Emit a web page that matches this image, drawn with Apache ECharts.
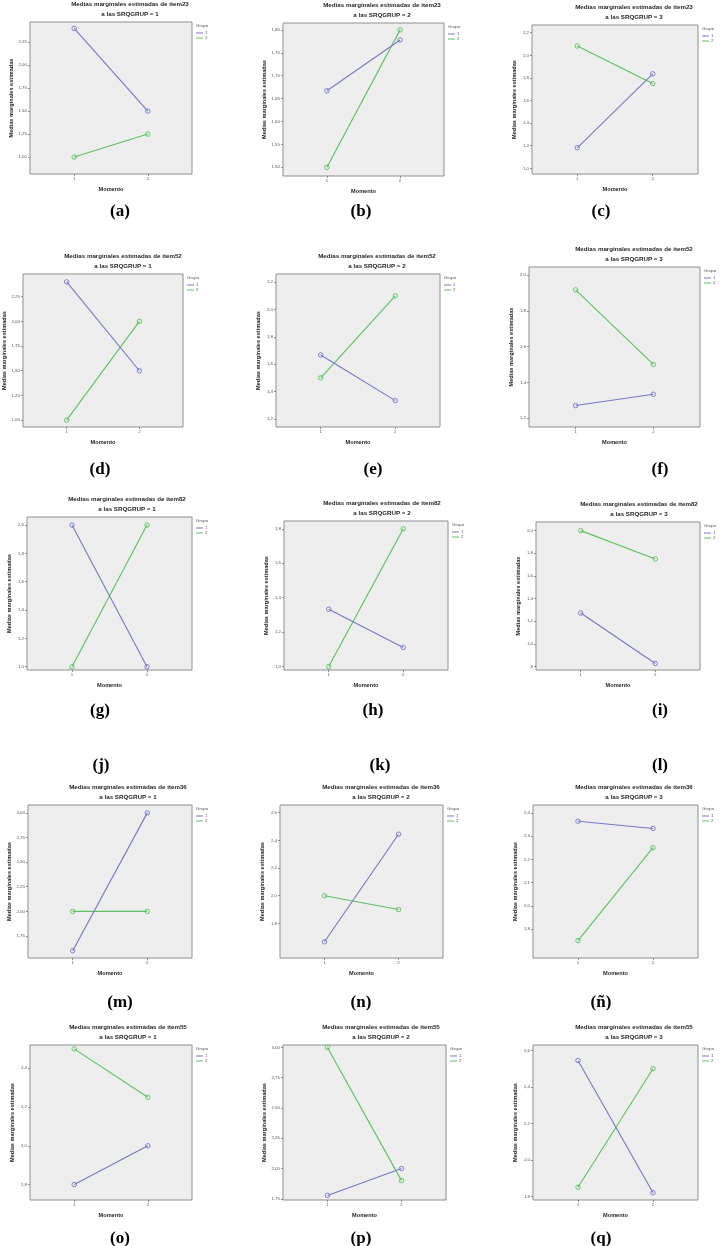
<!DOCTYPE html>
<html><head><meta charset="utf-8">
<script src="https://cdn.jsdelivr.net/npm/echarts@6/dist/echarts.min.js"></script>
<style>html,body{margin:0;padding:0;background:#fff}#c{width:722px;height:1246px}</style>
</head><body><div id="c"></div>
<script>
// ---------- DATA ----------
const momento = ['1', '2'];
const grupoNames = ['1', '2'];
const items = ['item23','item23','item23','item52','item52','item52','item82','item82','item82','item36','item36','item36','item55','item55','item55'];
const srqgrup = ['1','2','3','1','2','3','1','2','3','1','2','3','1','2','3'];
const captions = ['a','b','c','d','e','f','g','h','i','j','k','l','m','n','ñ','o','p','q'];
const grupo1 = [
  [2.40, 1.50], [1.667, 1.778], [1.182, 1.836],
  [2.40, 1.50], [1.667, 1.333], [1.27, 1.333],
  [2.00, 1.00], [1.333, 1.111], [1.273, 0.828],
  [1.60, 3.00], [1.667, 2.444], [2.364, 2.333],
  [1.80, 2.00], [1.778, 2.00], [2.545, 1.82]
];
const grupo2 = [
  [1.00, 1.25], [1.50, 1.80], [2.083, 1.75],
  [1.00, 2.00], [1.50, 2.10], [1.917, 1.50],
  [1.00, 2.00], [1.00, 1.80], [2.00, 1.75],
  [2.00, 2.00], [2.00, 1.90], [1.85, 2.25],
  [2.50, 2.25], [3.00, 1.90], [1.85, 2.50]
];
const yTickLabels = [
  ['1,00','1,25','1,50','1,75','2,00','2,25'],
  ['1,50','1,55','1,60','1,65','1,70','1,75','1,80'],
  ['1,0','1,2','1,4','1,6','1,8','2,0','2,2'],
  ['1,00','1,25','1,50','1,75','2,00','2,25'],
  ['1,2','1,4','1,6','1,8','2,0','2,2'],
  ['1,2','1,4','1,6','1,8','2,0'],
  ['1,0','1,2','1,4','1,6','1,8','2,0'],
  ['1,0','1,2','1,4','1,6','1,8'],
  [',8','1,0','1,2','1,4','1,6','1,8','2,0'],
  ['1,75','2,00','2,25','2,50','2,75','3,00'],
  ['1,8','2,0','2,2','2,4','2,6'],
  ['1,9','2,0','2,1','2,2','2,3','2,4'],
  ['1,8','2,0','2,2','2,4'],
  ['1,75','2,00','2,25','2,50','2,75','3,00'],
  ['1,8','2,0','2,2','2,4','2,6']
];
const yRange = [
  [0.815, 2.47], [1.481, 1.815], [0.95, 2.268],
  [0.93, 2.48], [1.14, 2.26], [1.15, 2.045],
  [0.977, 2.057], [0.98, 1.845], [0.77, 2.076],
  [1.526, 3.08], [1.55, 2.655], [1.775, 2.434],
  [1.72, 2.52], [1.74, 3.02], [1.78, 2.63]
];
const xRange = [0.4, 2.6];

// ---------- LAYOUT ----------
const boxes = [ // left, top, right, bottom of each plot frame
  [30,22,192,174],[283,23,444,176],[532,25,698,174],
  [23,274,183,427],[276,274,440,427],[529,267,700,427],
  [27,517,192,670],[284,521,448,670],[536,522,700,670],
  [28,805,192,958],[280,805,443,958],[533,805,698,958],
  [30,1045,192,1200],[283,1045,446,1200],[533,1045,698,1200]
];
const titleCx = [130,382,634, 123,377,634, 127,382,639, 128,381,634, 128,381,634];
const captionPos = [
  [120,213],[361,213],[601,213],
  [100,471],[373,471],[660,471],
  [100,712],[373,712],[660,712],
  [101,767],[380,767],[660,767],
  [120,1004],[361,1004],[601,1004],
  [120,1240],[361,1240],[601,1240]
];
const C1 = '#7778c4', C2 = '#5ebf64';
const FONT = 'Liberation Sans, Arial, sans-serif';
const txt = '#262626';

const toNum = s => parseFloat(s.replace(',', '.'));

const grid = [], xAxis = [], yAxis = [], series = [], title = [], legend = [];
boxes.forEach((b, i) => {
  grid.push({left: b[0], top: b[1], width: b[2]-b[0], height: b[3]-b[1], show: true,
    backgroundColor: '#eeeeee', borderColor: '#8f8f8f', borderWidth: 1});
  const xVals = momento.map(Number);
  xAxis.push({type: 'value', gridIndex: i, min: xRange[0], max: xRange[1],
    name: 'Momento', nameLocation: 'middle', nameGap: 12.5,
    nameTextStyle: {fontSize: 5.6, fontWeight: 'bold', color: txt, fontFamily: FONT},
    axisLine: {show: false}, splitLine: {show: false},
    axisTick: {show: true, length: 2, customValues: xVals, lineStyle: {color: '#777', width: 0.8}},
    axisLabel: {customValues: xVals, fontSize: 4.4, margin: 3, color: '#555', fontFamily: FONT,
      formatter: v => momento[xVals.indexOf(v)] ?? ''}});
  const ticks = yTickLabels[i].map(toNum);
  yAxis.push({type: 'value', gridIndex: i, min: yRange[i][0], max: yRange[i][1],
    name: 'Medias marginales estimadas', nameLocation: 'middle', nameGap: 15,
    nameTextStyle: {fontSize: 5.6, fontWeight: 'bold', color: txt, fontFamily: FONT},
    axisLine: {show: false}, splitLine: {show: false},
    axisTick: {show: true, length: 2, customValues: ticks, lineStyle: {color: '#777', width: 0.8}},
    axisLabel: {customValues: ticks, fontSize: 4.4, margin: 3, color: '#555', fontFamily: FONT,
      formatter: v => { const k = ticks.findIndex(t => Math.abs(t - v) < 1e-6); return k >= 0 ? yTickLabels[i][k] : ''; }}});
  [grupo1, grupo2].forEach((g, s) => {
    const col = s === 0 ? C1 : C2;
    series.push({type: 'line', name: grupoNames[s], xAxisIndex: i, yAxisIndex: i,
      data: xVals.map((x, j) => [x, g[i][j]]),
      symbol: 'circle', symbolSize: 4.5,
      itemStyle: {color: 'rgba(0,0,0,0)', borderColor: col, borderWidth: 0.9},
      lineStyle: {color: col, width: 1.1}, emphasis: {disabled: true}, silent: true, z: 3 - s});
  });
  title.push({text: 'Medias marginales estimadas de ' + items[i], subtext: 'a las SRQGRUP = ' + srqgrup[i],
    left: titleCx[i], top: b[1] - 20.5, textAlign: 'center', itemGap: 3.5, padding: 0,
    textStyle: {fontSize: 6.2, fontWeight: 'bold', color: txt, fontFamily: FONT},
    subtextStyle: {fontSize: 6.2, fontWeight: 'bold', color: txt, fontFamily: FONT}});
  title.push({text: 'Grupo', left: b[2] + 4, top: b[1] + 1.5, padding: 0,
    textStyle: {fontSize: 4.4, fontWeight: 'normal', color: '#555', fontFamily: FONT}});
  legend.push({left: b[2] + 4, top: b[1] + 9, orient: 'vertical', icon: 'rect', itemWidth: 7, itemHeight: 1,
    itemGap: 1, padding: 0, selectedMode: false,
    data: grupoNames.map((n, s) => ({name: n, itemStyle: {color: s === 0 ? C1 : C2, borderWidth: 0}})),
    textStyle: {fontSize: 4.4, color: '#555', fontFamily: FONT, padding: [0,0,0,-3]}});
});
captions.forEach((c, k) => {
  title.push({text: '{p|(}{b|' + c + '}{p|)}', left: captionPos[k][0], top: captionPos[k][1] - 10,
    textAlign: 'center', padding: 0,
    textStyle: {rich: {p: {fontSize: 17, fontFamily: 'Liberation Serif, serif', color: '#000'},
                       b: {fontSize: 17, fontWeight: 'bold', fontFamily: 'Liberation Serif, serif', color: '#000'}}}});
});

const chart = echarts.init(document.getElementById('c'), null, {renderer: 'canvas'});
chart.setOption({backgroundColor: '#fff', animation: false, grid, xAxis, yAxis, series, title, legend});
</script></body></html>
